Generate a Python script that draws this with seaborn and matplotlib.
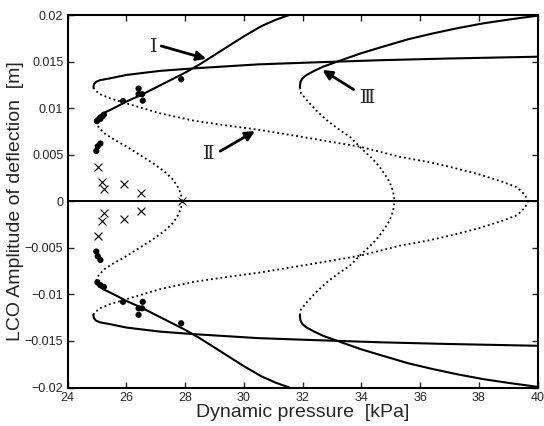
import numpy as np
import matplotlib
matplotlib.use("Agg")
import matplotlib.pyplot as plt
import seaborn as sns

# curve I (upper half; lower half is its mirror image)
c1_solid_x = [24.97, 25.0, 25.1, 25.25, 25.45, 25.7, 26.0, 26.5, 27.0, 27.5, 28.0, 28.5, 29.0, 29.5, 30.0, 30.6, 31.1, 31.55]
c1_solid_y = [0.0086, 0.0089, 0.0092, 0.0095, 0.0098, 0.0102, 0.0107, 0.0114, 0.0122, 0.0130, 0.0138, 0.0147, 0.0157, 0.0167, 0.0177, 0.0188, 0.0195, 0.0200]
c1_dot_x = [27.9, 27.86, 27.76, 27.6, 27.3, 26.9, 26.4, 26.0, 25.6, 25.25, 25.05, 24.97]
c1_dot_y = [0.0, 0.0008, 0.0015, 0.0023, 0.0032, 0.0041, 0.0051, 0.0059, 0.0066, 0.0073, 0.0080, 0.0086]

# curve II
c2_solid_x = [24.88, 24.9, 24.96, 25.1, 25.45, 26.0, 27.15, 28.3, 30.5, 32.3, 34.7, 37.0, 40.0]
c2_solid_y = [0.0122, 0.01255, 0.0128, 0.0130, 0.0132, 0.01356, 0.0140, 0.01427, 0.0147, 0.0149, 0.01515, 0.01533, 0.01552]
c2_dot_x = [24.88, 24.95, 25.1, 25.45, 26.0, 27.15, 28.3, 29.5, 30.5, 32.0, 33.95, 35.3, 36.3, 37.0, 38.0, 38.8, 39.3, 39.57, 39.68]
c2_dot_y = [0.0122, 0.0119, 0.0115, 0.01105, 0.01052, 0.00944, 0.00865, 0.0081, 0.00768, 0.0069, 0.00586, 0.00478, 0.0042, 0.00371, 0.0029, 0.0021, 0.0015, 0.0007, 0.0]

# curve III
c3_solid_x = [31.91, 31.93, 32.0, 32.14, 32.4, 32.7, 33.27, 34.0, 34.74, 35.6, 36.45, 37.3, 38.15, 39.0, 40.0]
c3_solid_y = [0.01224, 0.0128, 0.0132, 0.01356, 0.0140, 0.01445, 0.01509, 0.0159, 0.0166, 0.0174, 0.01803, 0.0186, 0.0191, 0.0195, 0.01993]
c3_dot_x = [31.91, 31.95, 32.14, 32.45, 32.82, 33.2, 33.61, 34.06, 34.4, 34.62, 34.8, 34.96, 35.08, 35.14]
c3_dot_y = [0.01224, 0.0116, 0.01087, 0.0098, 0.00873, 0.0078, 0.00693, 0.0055, 0.0045, 0.00371, 0.0029, 0.0021, 0.0011, 0.0]

# experiment: stable LCO (dots) and decaying (x)
exp_lco_x = [24.98, 25.03, 25.12, 25.0, 25.12, 25.18, 25.24, 25.89, 26.42, 26.42, 26.54, 26.56, 27.87,
             24.98, 25.03, 25.12, 25.02, 25.12, 25.24, 25.89, 26.42, 26.42, 26.54, 26.56, 27.87]
exp_lco_y = [0.0054, 0.0059, 0.0062, 0.0086, 0.00885, 0.0091, 0.0093, 0.01075, 0.0121, 0.0115, 0.0115, 0.0108, 0.0131,
             -0.0054, -0.0059, -0.0063, -0.0087, -0.009, -0.0092, -0.0108, -0.0115, -0.0122, -0.0115, -0.0108, -0.0131]
exp_decay_x = [25.04, 25.16, 25.24, 25.92, 26.51, 27.9, 25.04, 25.16, 25.24, 25.92, 26.51]
exp_decay_y = [0.0037, 0.0021, 0.0013, 0.0019, 0.0009, 0.0, -0.0037, -0.0021, -0.0013, -0.0019, -0.0010]

yticks = [-0.02, -0.015, -0.01, -0.005, 0, 0.005, 0.01, 0.015, 0.02]
ytick_labels = ["-0.02", "-0.015", "-0.01", "-0.005", "0", "0.005", "0.01", "0.015", "0.02"]
ytick_labels = [t.replace("-", "\u2212") for t in ytick_labels]

sns.set_style("ticks")
plt.rcParams['font.family'] = ['Liberation Sans', 'DejaVu Sans']

fig = plt.figure(figsize=(5.44, 4.26), dpi=100)
ax = fig.add_axes([67.5 / 544, 1 - 387.5 / 426, 470 / 544, 372.5 / 426])

lw = 1.5
for xs, ys in [(c1_solid_x, c1_solid_y), (c2_solid_x, c2_solid_y), (c3_solid_x, c3_solid_y)]:
    for sign in (1, -1):
        sns.lineplot(x=xs, y=sign * np.array(ys), sort=False, estimator=None, color='k', lw=lw, ax=ax)
for xs, ys in [(c1_dot_x, c1_dot_y), (c2_dot_x, c2_dot_y), (c3_dot_x, c3_dot_y)]:
    for sign in (1, -1):
        sns.lineplot(x=xs, y=sign * np.array(ys), sort=False, estimator=None, color='k', lw=1.3,
                     linestyle=':', ax=ax)

ax.axhline(0, color='k', lw=1.4)

sns.scatterplot(x=exp_lco_x, y=exp_lco_y, color='k', s=20, edgecolor='none', ax=ax, zorder=5)
sns.scatterplot(x=exp_decay_x, y=exp_decay_y, color='k', marker='x', s=32, linewidth=0.8, ax=ax, zorder=5)

# labels of the curves
arrow = dict(arrowstyle='-|>', color='k', lw=2.0, mutation_scale=14, shrinkA=0, shrinkB=0)
roman = dict(fontsize=14, family=['DejaVu Serif', 'DejaVu Sans'], va='center', ha='center')
ax.annotate('', xy=(28.72, 0.0153), xytext=(27.19, 0.01667), arrowprops=arrow)
ax.text(26.92, 0.0166, '\u2160', **roman)
ax.annotate('', xy=(30.38, 0.00753), xytext=(29.2, 0.00538), arrowprops=arrow)
ax.text(28.82, 0.0051, '\u2161', **roman)
ax.annotate('', xy=(32.68, 0.01409), xytext=(33.74, 0.0120), arrowprops=arrow)
ax.text(34.2, 0.0111, '\u2162', **roman)

ax.set_xlim(24, 40)
ax.set_ylim(-0.02, 0.02)
ax.set_xticks(range(24, 41, 2))
ax.set_yticks(yticks)
ax.set_yticklabels(ytick_labels)
ax.tick_params(direction='in', top=True, right=True, length=4, width=1, labelsize=9, pad=3)
for s in ax.spines.values():
    s.set_linewidth(1.5)
    s.set_color('k')

ax.set_xlabel('Dynamic pressure  [kPa]', fontsize=14, labelpad=0)
ax.set_ylabel('LCO Amplitude of deflection  [m]', fontsize=14)
ax.yaxis.set_label_coords(-0.092, 0.5)

plt.savefig('out.png', dpi=100)
